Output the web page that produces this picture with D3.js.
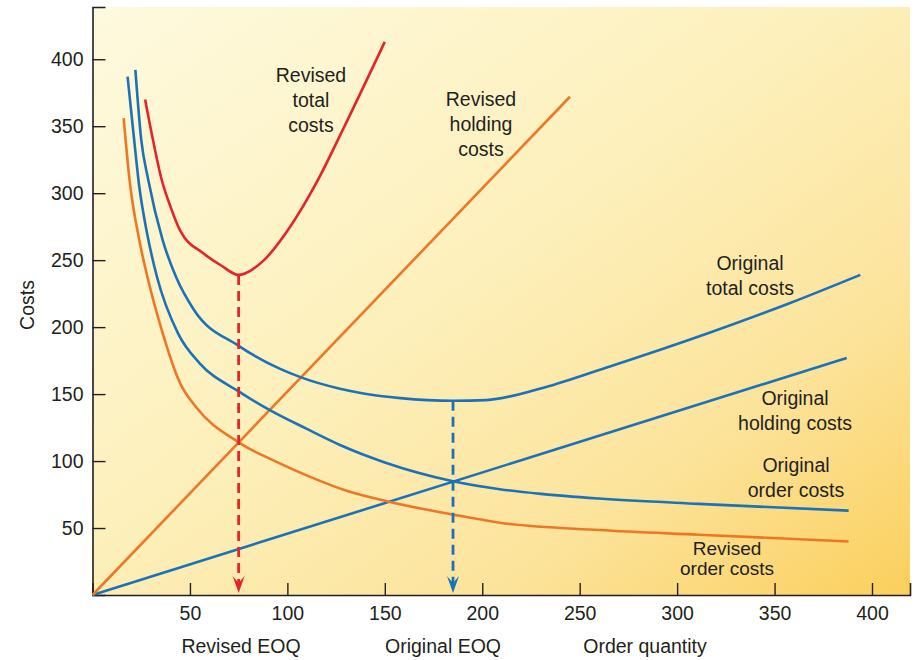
<!DOCTYPE html>
<html>
<head>
<meta charset="utf-8">
<script src="https://cdn.jsdelivr.net/npm/d3@7"></script>
<style>
  body { margin: 0; background: #fff; }
  text { font-family: "Liberation Sans", Arial, sans-serif; fill: #231f20; }
</style>
</head>
<body>
<div id="chart"></div>
<script>
var width = 919, height = 660;

// data: [order quantity, cost]
var originalHolding = [[0, 0], [387, 177]];
var revisedHolding = [[0, 0], [245, 372]];
var originalOrder = [[18, 387], [21, 345], [24, 305], [28, 270], [33, 238], [44, 195], [55, 173], [75, 152],
  [91, 138], [110, 124], [127, 112], [150, 99], [185, 85], [209, 79], [230, 75.5], [260, 72], [311, 68], [388, 63]];
var originalTotal = [[22, 392], [25, 340], [28.6, 310], [36, 265], [43, 237], [52, 213], [75, 186], [96, 169],
  [107, 162.5], [127, 154], [139, 150.5], [158, 147], [185, 145], [202, 145.5], [229.5, 154], [260, 168],
  [318, 196.5], [358, 218], [394, 239]];
var revisedOrder = [[16, 356], [19, 310], [24, 265], [28.6, 235], [35.5, 198], [45, 158], [53, 140.5], [75, 114],
  [95, 99], [112, 88], [130, 78], [151, 70], [185, 60], [209, 54], [260, 48.5], [311, 45], [388, 40]];
var revisedTotal = [[27, 370], [31, 340], [35.5, 310], [40, 290], [45, 272], [57, 255], [66, 246], [75, 239],
  [82, 243], [88, 250], [101, 274], [115, 308], [129, 349], [150, 413]];

var revisedEOQ = [75, 239];
var originalEOQ = [185, 145];

var xTicks = [50, 100, 150, 200, 250, 300, 350, 400];
var yTicks = [50, 100, 150, 200, 250, 300, 350, 400];

var blue = "#1b72b8", orange = "#ee7726", red = "#e4232d";

var margin = {left: 92.5, right: 9, top: 7, bottom: 65};

var svg = d3.select("#chart").append("svg")
    .attr("width", width)
    .attr("height", height);

var x = d3.scaleLinear().domain([0, 419.5]).range([margin.left, width - margin.right]);
var y = d3.scaleLinear().domain([0, 439]).range([height - margin.bottom, margin.top]);

// background
var defs = svg.append("defs");
var grad = defs.append("linearGradient")
    .attr("id", "bg")
    .attr("x1", "0").attr("y1", "0").attr("x2", "1").attr("y2", "1");
grad.append("stop").attr("offset", "0").attr("stop-color", "#fefadf");
grad.append("stop").attr("offset", "0.45").attr("stop-color", "#fdf0bc");
grad.append("stop").attr("offset", "0.75").attr("stop-color", "#fce39a");
grad.append("stop").attr("offset", "1").attr("stop-color", "#fbcf5c");

svg.append("rect")
    .attr("x", x(0)).attr("y", y(439))
    .attr("width", x(419.5) - x(0)).attr("height", y(0) - y(439))
    .attr("fill", "url(#bg)");

// axes
var yAxis = d3.axisLeft(y).tickValues(yTicks).tickSize(-13).tickPadding(9);
var xAxis = d3.axisBottom(x).tickValues(xTicks).tickSize(-12).tickPadding(11);

var gy = svg.append("g").attr("transform", "translate(" + x(0) + ",0)").call(yAxis);
var gx = svg.append("g").attr("transform", "translate(0," + y(0) + ")").call(xAxis);
[gy, gx].forEach(function(g) {
    g.select(".domain").attr("stroke", "#231f20").attr("stroke-width", 1.6);
    g.selectAll(".tick line").attr("stroke", "#231f20").attr("stroke-width", 1.4);
    g.selectAll(".tick text").attr("font-size", 19.5).attr("fill", "#231f20")
        .style("font-family", "'Liberation Sans', Arial, sans-serif");
});

// curves
var line = d3.line()
    .x(function(d) { return x(d[0]); })
    .y(function(d) { return y(d[1]); })
    .curve(d3.curveMonotoneX);

var series = [
    {data: originalHolding, color: blue},
    {data: revisedHolding, color: orange},
    {data: revisedOrder, color: orange},
    {data: originalOrder, color: blue},
    {data: originalTotal, color: blue},
    {data: revisedTotal, color: red}
];

svg.selectAll("path.curve")
    .data(series)
    .enter().append("path")
    .attr("class", "curve")
    .attr("d", function(d) { return line(d.data); })
    .attr("fill", "none")
    .attr("stroke", function(d) { return d.color; })
    .attr("stroke-width", 2.6);

// EOQ drop lines with arrows
function dropLine(pt, color) {
    svg.append("line")
        .attr("x1", x(pt[0])).attr("x2", x(pt[0]))
        .attr("y1", y(pt[1])).attr("y2", y(0) - 12)
        .attr("stroke", color)
        .attr("stroke-width", 2.8)
        .attr("stroke-dasharray", "10,6");
    var cx = x(pt[0]), tip = y(0) - 2;
    svg.append("path")
        .attr("d", "M" + (cx - 6) + "," + (tip - 17) + " L" + cx + "," + (tip - 10) +
            " L" + (cx + 6) + "," + (tip - 17) + " L" + cx + "," + tip + "Z")
        .attr("fill", color);
}
dropLine(revisedEOQ, red);
dropLine(originalEOQ, blue);

// labels
function label(lines, cx, cy, dy, size) {
    lines.forEach(function(s, i) {
        svg.append("text")
            .attr("text-anchor", "middle")
            .attr("font-size", size || 19.5)
            .attr("x", cx).attr("y", cy + i * dy)
            .text(s);
    });
}
label(["Revised", "total", "costs"], 311, 82, 25);
label(["Revised", "holding", "costs"], 481, 106, 25);
label(["Original", "total costs"], 750, 270, 25);
label(["Original", "holding costs"], 795, 405, 25);
label(["Original", "order costs"], 796, 472, 25);
label(["Revised", "order costs"], 727, 555, 20, 19);

svg.append("text")
    .attr("transform", "translate(34,305) rotate(-90)")
    .attr("text-anchor", "middle")
    .attr("font-size", 19.5)
    .text("Costs");

label(["Revised EOQ"], 241, 653, 0);
label(["Original EOQ"], 443, 653, 0);
label(["Order quantity"], 645, 653, 0);
</script>
</body>
</html>
